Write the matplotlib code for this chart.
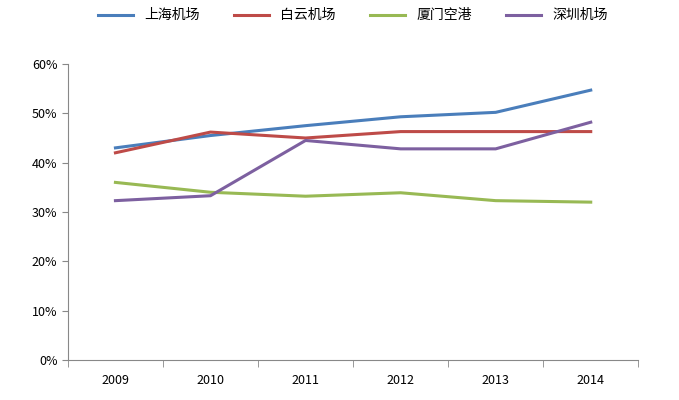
import matplotlib
matplotlib.use("Agg")
import matplotlib.pyplot as plt
from matplotlib.ticker import PercentFormatter

plt.rcParams['font.family'] = ['Noto Sans CJK SC', 'DejaVu Sans']

years = ['2009', '2010', '2011', '2012', '2013', '2014']
names = ['上海机场', '白云机场', '厦门空港', '深圳机场']
shanghai = [43.0, 45.5, 47.5, 49.3, 50.2, 54.7]
baiyun = [42.0, 46.2, 45.0, 46.3, 46.3, 46.3]
xiamen = [36.0, 34.0, 33.2, 33.9, 32.3, 32.0]
shenzhen = [32.3, 33.3, 44.5, 42.8, 42.8, 48.2]
colors = ['#4A7EBB', '#BE4B48', '#98B954', '#7D60A0']

fig = plt.figure(figsize=(6.79, 4.0), dpi=100)
ax = fig.add_axes([0.1, 0.1, 0.84, 0.74])
x = range(len(years))
for vals, n, c in zip([shanghai, baiyun, xiamen, shenzhen], names, colors):
    ax.plot(x, vals, color=c, lw=2.2, label=n)

ax.set_ylim(0, 60)
ax.set_yticks(range(0, 61, 10))
ax.yaxis.set_major_formatter(PercentFormatter(decimals=0))
ax.set_xlim(-0.5, 5.5)
ax.set_xticks(list(x))
ax.set_xticklabels(years)
for s in ['top', 'right']:
    ax.spines[s].set_visible(False)
for s in ['left', 'bottom']:
    ax.spines[s].set_color('#888888')
ax.tick_params(axis='y', length=4, color='#888888', labelsize=9)
ax.tick_params(axis='x', length=0, labelsize=9, pad=10)
# vertical separators on x axis
ax.set_xticks([i - 0.5 for i in range(7)], minor=True)
ax.tick_params(axis='x', which='minor', length=5, color='#888888', direction='out')
ax.legend(loc='upper center', bbox_to_anchor=(0.5, 1.23), ncol=4, frameon=False,
          fontsize=10, handlelength=2.5, columnspacing=2.5)
fig.savefig('out.png', dpi=100)
